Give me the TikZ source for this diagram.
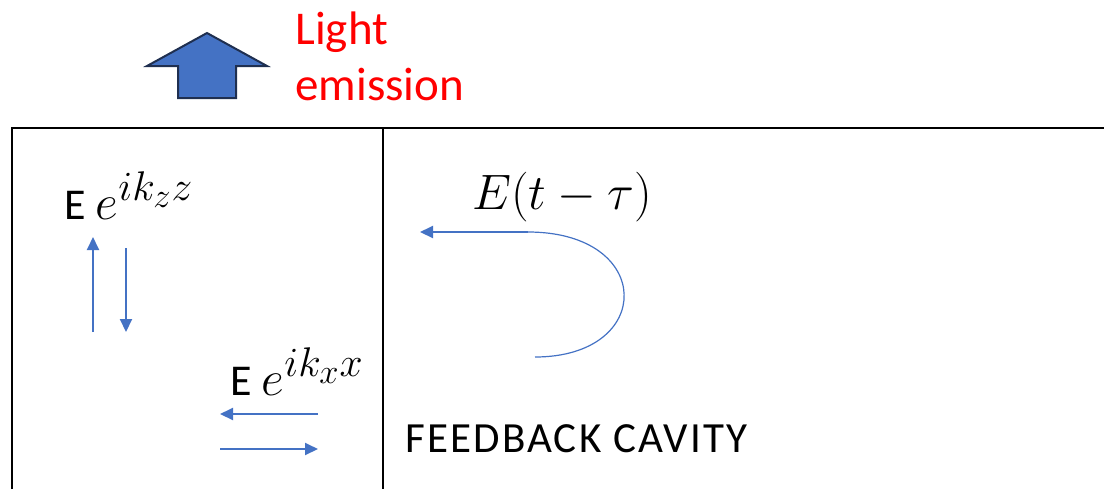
\documentclass[tikz,border=0pt]{standalone}
\usepackage{fontspec}
\setmainfont{Carlito}
\usepackage{xcolor}
\usetikzlibrary{arrows.meta,positioning}
\definecolor{wblue}{HTML}{4472C4}
\definecolor{wnavy}{HTML}{1F2F50}
\DeclareMathSizes{25}{25}{21}{17}
\newcommand{\wavemath}[1]{{\fontsize{25}{28}\selectfont$#1$}}

\begin{document}
\begin{tikzpicture}[x=0.5pt,y=-0.5pt,
    wall/.style={line width=1.2pt},
    wave/.style={wblue,line width=1pt,-{Triangle[length=6.5pt,width=6pt]}},
    lbl/.style={inner sep=0pt,anchor=base west,font=\fontsize{22}{25}\selectfont},
    redlbl/.style={lbl,red,font=\fontsize{23.5}{28}\selectfont}]
    \useasboundingbox (0,0) rectangle (1104,489);
    \draw[wall] (12,489) -- (12,128) -- (1104,128);
    \draw[wall] (383,128) -- (383,489);
    \draw[line width=1pt,draw=wnavy,fill=wblue,line join=miter] (207,33) -- (267,66) -- (236,66) -- (236,98)
        -- (178,98) -- (178,66) -- (147,66) -- cycle;
    \node[redlbl] (light) at (295,44) {Light};
    \node[redlbl] (emission) at ([yshift=-28pt]light.base west) {emission};
    \node[lbl] (ez) at (64,219) {E \wavemath{e^{ik_zz}}};
    \node[lbl] (ex) at (230,395) {E \wavemath{e^{ik_xx}}};
    \node[lbl,anchor=base,font=\fontsize{24}{28}\selectfont] (delay) at (562,209) {$E(t-\tau)$};
    \node[lbl,font=\fontsize{21.5}{24}\selectfont\addfontfeature{LetterSpace=5}] (cavity) at (405,452) {FEEDBACK CAVITY};
    \coordinate (zup0) at (93,332);
    \coordinate (zup1) at (93,237);
    \coordinate (zdn0) at (126,248);
    \coordinate (zdn1) at (126,332);
    \coordinate (xlf0) at (318,414);
    \coordinate (xlf1) at (220,414);
    \coordinate (xrt0) at (220,449);
    \coordinate (xrt1) at (318,449);
    \coordinate (fbstart) at (528,232);
    \coordinate (fbend) at (420,232);
    \coordinate (fbtail) at (535,357);
    \draw[wave] (zup0) -- (zup1);
    \draw[wave] (zdn0) -- (zdn1);
    \draw[wave] (xlf0) -- (xlf1);
    \draw[wave] (xrt0) -- (xrt1);
    \draw[wave] (fbstart) -- (fbend);
    \draw[wblue,line width=0.6pt] (fbstart) .. controls (655,232) and (655,357) .. (fbtail);
\end{tikzpicture}
\end{document}
